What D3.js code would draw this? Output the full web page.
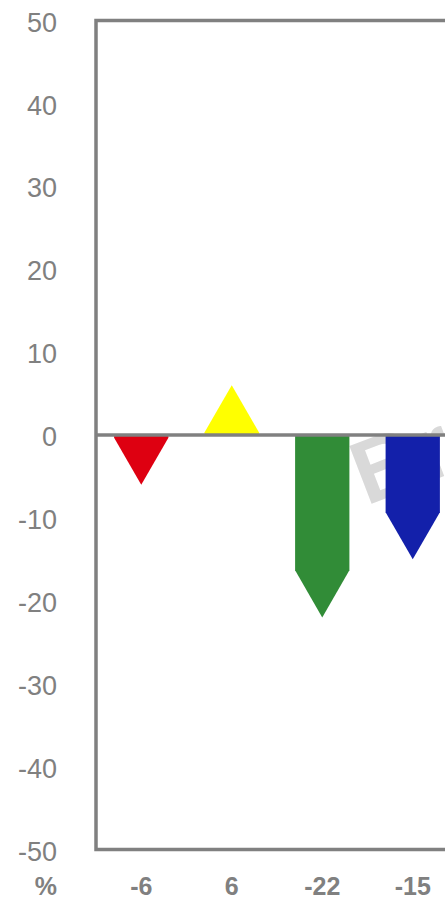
<!DOCTYPE html>
<html>
<head>
<meta charset="utf-8">
<script src="https://cdn.jsdelivr.net/npm/d3@7"></script>
<style>
html,body{margin:0;padding:0;background:#fff;overflow:hidden;}
svg{display:block;}
</style>
</head>
<body>
<svg id="chart" width="445" height="900"></svg>
<script>
const categories = ["Cat 1", "Cat 2", "Cat 3", "Cat 4"];
const values = [-6, 6, -22, -15];
const valueLabels = ["-6", "6", "-22", "-15"];
const colors = ["#de0011", "#ffff00", "#318c37", "#1320aa"];
const yTicks = [50, 40, 30, 20, 10, 0, -10, -20, -30, -40, -50];
const unitLabel = "%";
const watermark = "Br";

const svg = d3.select("#chart");
const gray = "#808080";
const font = "'Liberation Sans', Arial, sans-serif";

const y = d3.scaleLinear().domain([-50, 50]).range([849.5, 20.5]);
const x = d3.scaleBand().domain(categories).range([96, 458]).paddingInner(0.4).paddingOuter(0.2);

// watermark (behind everything)
svg.append("text")
  .attr("x", 0).attr("y", 0)
  .attr("transform", "translate(366,506) rotate(-21)")
  .attr("font-family", font).attr("font-weight", "bold").attr("font-size", 90)
  .attr("fill", "#d9d9d9")
  .text(watermark);

// frame
svg.append("path")
  .attr("d", `M${x.range()[1] + 20},${y(50)} H${x.range()[0]} V${y(-50)} H${x.range()[1] + 20}`)
  .attr("fill", "none").attr("stroke", gray).attr("stroke-width", 3.5);

// arrow bars
const bw = x.bandwidth();
const head = bw * Math.sqrt(3) / 2;
svg.append("g").selectAll("path").data(values).join("path")
  .attr("d", (v, i) => {
    const x0 = x(categories[i]), x1 = x0 + bw, xm = x0 + bw / 2;
    const y0 = y(0), yt = y(v);
    const dir = v < 0 ? 1 : -1;
    const len = Math.abs(yt - y0);
    const h = Math.min(head, len);
    const yb = yt - dir * h;
    return `M${x0},${y0} L${x0},${yb} L${xm},${yt} L${x1},${yb} L${x1},${y0} Z`;
  })
  .attr("fill", (v, i) => colors[i]);

// zero line
svg.append("line")
  .attr("x1", x.range()[0]).attr("x2", x.range()[1] + 20)
  .attr("y1", y(0)).attr("y2", y(0))
  .attr("stroke", gray).attr("stroke-width", 3.5);

// y axis labels
const yAxis = svg.append("g")
  .attr("transform", "translate(60,2)")
  .call(d3.axisLeft(y).tickValues(yTicks).tickSize(0).tickPadding(3).tickFormat(d => String(d)));
yAxis.select(".domain").remove();
yAxis.selectAll("text")
  .attr("font-family", font).attr("font-size", 27).attr("fill", gray);

// bottom value labels
const xAxis = svg.append("g")
  .attr("transform", "translate(0,894.5)")
  .call(d3.axisBottom(x).tickSize(0).tickPadding(0).tickFormat((d, i) => valueLabels[i]));
xAxis.select(".domain").remove();
xAxis.selectAll("text")
  .attr("y", 0).attr("dy", 0)
  .attr("font-family", font).attr("font-weight", "bold").attr("font-size", 25).attr("fill", gray);

svg.append("text")
  .attr("x", 57).attr("y", 894.5)
  .attr("text-anchor", "end")
  .attr("font-family", font).attr("font-weight", "bold").attr("font-size", 25).attr("fill", gray)
  .text(unitLabel);
</script>
</body>
</html>
